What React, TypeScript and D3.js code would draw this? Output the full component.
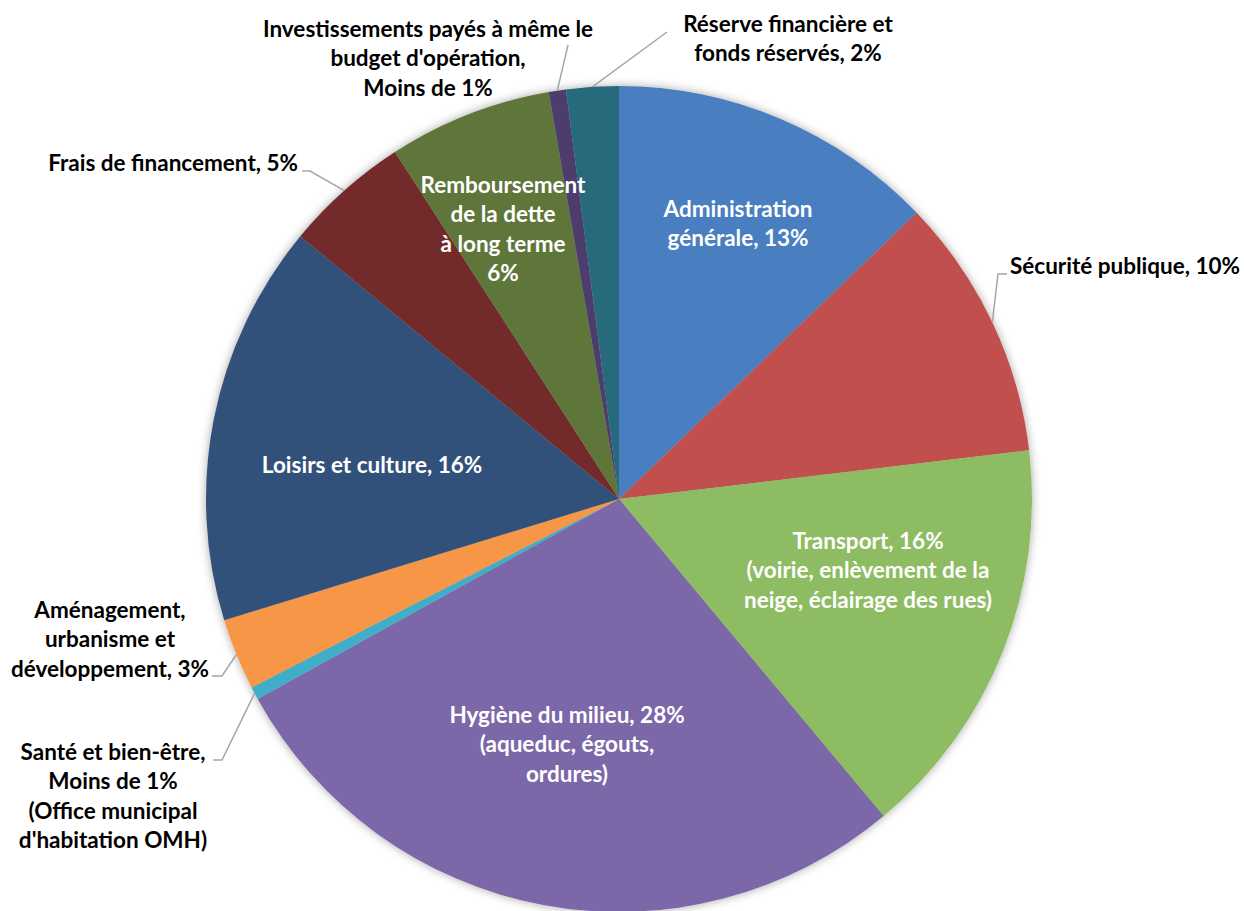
import { useRef, useEffect } from "react";
import * as d3 from "d3";

// Budget categories, clockwise from 12 o'clock
const categories = [
  "Administration générale",
  "Sécurité publique",
  "Transport",
  "Hygiène du milieu",
  "Santé et bien-être",
  "Aménagement, urbanisme et développement",
  "Loisirs et culture",
  "Frais de financement",
  "Remboursement de la dette à long terme",
  "Investissements payés à même le budget d'opération",
  "Réserve financière et fonds réservés",
];

// share of budget (%)
const shares = [12.8, 10.3, 15.8, 28.0, 0.5, 2.8, 15.7, 4.9, 6.4, 0.67, 2.05];

const colors = [
  "#4A7EC0", "#C0504D", "#8EBC64", "#7B67A8", "#3FAEC8", "#F79646",
  "#33517A", "#722B2B", "#5E763A", "#4E3D6D", "#276A7C",
];

// label text as printed on the chart
const labelLines = [
  ["Administration", "générale, 13%"],
  ["Sécurité publique, 10%"],
  ["Transport, 16%", "(voirie, enlèvement de la", "neige, éclairage des rues)"],
  ["Hygiène du milieu, 28%", "(aqueduc, égouts,", "ordures)"],
  ["Santé et bien-être,", "Moins de 1%", "(Office municipal", "d'habitation OMH)"],
  ["Aménagement,", "urbanisme et", "développement, 3%"],
  ["Loisirs et culture, 16%"],
  ["Frais de financement, 5%"],
  ["Remboursement", "de la dette", "à long terme", "6%"],
  ["Investissements payés à même le", "budget d'opération,", "Moins de 1%"],
  ["Réserve financière et", "fonds réservés, 2%"],
];

// label placement (page coords): inside labels are white, outside ones get a leader
type Layout = { x: number; y: number; anchor: string; inside: boolean; leader?: [number, number][] };
const layout: Layout[] = [
  { x: 738, y: 209, anchor: "middle", inside: true },
  { x: 1010, y: 266, anchor: "start", inside: false, leader: [[1007, 274], [998, 274]] },
  { x: 868, y: 541, anchor: "middle", inside: true },
  { x: 567, y: 715, anchor: "middle", inside: true },
  { x: 113, y: 752, anchor: "middle", inside: false, leader: [[213, 760], [222, 760]] },
  { x: 110, y: 610, anchor: "middle", inside: false, leader: [[212, 676], [222, 676]] },
  { x: 372, y: 465, anchor: "middle", inside: true },
  { x: 298, y: 163, anchor: "end", inside: false, leader: [[302, 171], [310, 171]] },
  { x: 503, y: 185, anchor: "middle", inside: true },
  { x: 428, y: 29, anchor: "middle", inside: false, leader: [[568, 45]] },
  { x: 788, y: 24, anchor: "middle", inside: false, leader: [[667, 32]] },
];

const W = 1244;
const H = 911;
const CX = 619;
const CY = 499;
const R = 413;
const LINE_H = 29.5;

export default function App() {
  const svgRef = useRef<SVGSVGElement>(null);

  useEffect(() => {
    if (!svgRef.current) return;
    const svg = d3.select(svgRef.current);
    svg.selectAll("*").remove();

    const defs = svg.append("defs");
    const f = defs.append("filter").attr("id", "shadow").attr("x", "-10%").attr("y", "-10%").attr("width", "120%").attr("height", "120%");
    f.append("feDropShadow")
      .attr("dx", 0)
      .attr("dy", 0)
      .attr("stdDeviation", 5)
      .attr("flood-color", "#000")
      .attr("flood-opacity", 0.35);

    const pie = d3.pie<number>().sort(null).value((d) => d);
    const arcs = pie(shares);
    const arc = d3.arc<d3.PieArcDatum<number>>().innerRadius(0).outerRadius(R);

    const g = svg.append("g").attr("transform", `translate(${CX},${CY})`).attr("filter", "url(#shadow)");
    g.selectAll("path")
      .data(arcs)
      .enter()
      .append("path")
      .attr("d", arc)
      .attr("fill", (_, i) => colors[i]);

    // leader lines to the arc edge at each slice's mid angle
    const edge = (a: d3.PieArcDatum<number>): [number, number] => {
      const m = (a.startAngle + a.endAngle) / 2;
      return [CX + R * Math.sin(m), CY - R * Math.cos(m)];
    };
    arcs.forEach((a, i) => {
      const l = layout[i];
      if (!l.leader) return;
      const pts = [...l.leader, edge(a)];
      svg.append("path")
        .attr("d", d3.line()(pts))
        .attr("fill", "none")
        .attr("stroke", "#A6A6A6")
        .attr("stroke-width", 1.5);
    });

    // labels
    labelLines.forEach((lines, i) => {
      const l = layout[i];
      const t = svg.append("text")
        .attr("text-anchor", l.anchor)
        .attr("font-family", "Lato, 'Open Sans', sans-serif")
        .attr("font-weight", 700)
        .attr("font-size", 22.5)
        .attr("fill", l.inside ? "#FFFFFF" : "#000000");
      lines.forEach((line, j) => {
        t.append("tspan")
          .attr("x", l.x)
          .attr("y", l.y + j * LINE_H)
          .attr("dy", "0.35em")
          .text(line);
      });
    });
  }, []);

  return (
    <div>
      <style>{`body{margin:0;background:#fff}`}</style>
      <svg ref={svgRef} width={W} height={H} style={{ display: "block" }} />
    </div>
  );
}
